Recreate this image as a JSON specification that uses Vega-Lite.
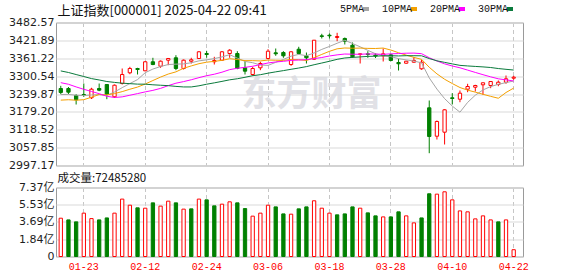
{
  "$schema": "https://vega.github.io/schema/vega-lite/v6.json",
  "background": "#ffffff",
  "padding": {"left": 8, "top": 3.5, "right": 5, "bottom": 2},
  "spacing": 1,
  "datasets": {
    "k": [
      {"d":"01-20","o":3258.5,"h":3267.7,"l":3239.2,"c":3245.0,"v":4.09,"chg":2.56,"5PMA":3238.06,"10PMA":3219.08,"20PMA":3278.36,"30PMA":3318.21},
      {"d":"01-21","o":3258.5,"h":3263.6,"l":3239.9,"c":3246.0,"v":3.91,"chg":-1.76,"5PMA":3238.39,"10PMA":3220.38,"20PMA":3272.92,"30PMA":3312.88},
      {"d":"01-22","o":3234.8,"h":3239.2,"l":3204.2,"c":3220.2,"v":3.70,"chg":-29.00,"5PMA":3235.69,"10PMA":3218.72,"20PMA":3263.93,"30PMA":3305.91},
      {"d":"01-23","o":3238.2,"h":3275.5,"l":3230.4,"c":3234.8,"v":4.63,"chg":16.54,"5PMA":3234.52,"10PMA":3220.60,"20PMA":3255.77,"30PMA":3299.17},
      {"d":"01-24","o":3227.0,"h":3260.9,"l":3222.9,"c":3256.2,"v":4.05,"chg":22.47,"5PMA":3236.68,"10PMA":3229.01,"20PMA":3248.50,"30PMA":3292.21},
      {"d":"01-27","o":3258.5,"h":3275.5,"l":3249.4,"c":3252.8,"v":3.91,"chg":-2.03,"5PMA":3237.93,"10PMA":3237.99,"20PMA":3241.02,"30PMA":3287.50},
      {"d":"02-05","o":3272.1,"h":3273.8,"l":3222.2,"c":3238.2,"v":4.12,"chg":-21.11,"5PMA":3235.30,"10PMA":3236.85,"20PMA":3232.13,"30PMA":3282.27},
      {"d":"02-06","o":3230.4,"h":3272.1,"l":3226.3,"c":3269.7,"v":4.63,"chg":41.17,"5PMA":3246.71,"10PMA":3241.20,"20PMA":3228.07,"30PMA":3279.24},
      {"d":"02-07","o":3275.5,"h":3326.4,"l":3272.1,"c":3306.1,"v":6.13,"chg":33.01,"5PMA":3261.41,"10PMA":3247.97,"20PMA":3230.13,"30PMA":3276.62},
      {"d":"02-10","o":3311.8,"h":3332.2,"l":3307.1,"c":3326.4,"v":5.48,"chg":18.50,"5PMA":3275.32,"10PMA":3256.00,"20PMA":3235.67,"30PMA":3275.03},
      {"d":"02-11","o":3326.4,"h":3328.8,"l":3306.1,"c":3323.0,"v":5.20,"chg":-4.11,"5PMA":3288.81,"10PMA":3263.37,"20PMA":3241.22,"30PMA":3273.36},
      {"d":"02-12","o":3318.6,"h":3351.2,"l":3317.3,"c":3349.2,"v":5.16,"chg":28.33,"5PMA":3312.19,"10PMA":3273.75,"20PMA":3247.06,"30PMA":3273.20},
      {"d":"02-13","o":3349.2,"h":3362.8,"l":3337.6,"c":3340.0,"v":5.73,"chg":-13.91,"5PMA":3324.55,"10PMA":3285.63,"20PMA":3252.18,"30PMA":3271.16},
      {"d":"02-14","o":3334.2,"h":3353.6,"l":3328.8,"c":3351.2,"v":5.38,"chg":14.24,"5PMA":3333.16,"10PMA":3297.29,"20PMA":3258.94,"30PMA":3269.61},
      {"d":"02-17","o":3354.6,"h":3362.1,"l":3337.6,"c":3360.4,"v":5.91,"chg":9.11,"5PMA":3339.90,"10PMA":3307.61,"20PMA":3268.31,"30PMA":3268.20},
      {"d":"02-18","o":3362.8,"h":3371.6,"l":3320.7,"c":3326.4,"v":5.73,"chg":-31.34,"5PMA":3341.18,"10PMA":3315.00,"20PMA":3276.49,"30PMA":3265.68},
      {"d":"02-19","o":3326.4,"h":3356.9,"l":3323.0,"c":3354.6,"v":5.06,"chg":27.05,"5PMA":3342.21,"10PMA":3327.20,"20PMA":3282.02,"30PMA":3263.82},
      {"d":"02-20","o":3351.2,"h":3362.8,"l":3343.4,"c":3356.0,"v":5.09,"chg":-0.76,"5PMA":3345.87,"10PMA":3335.21,"20PMA":3288.21,"30PMA":3263.79},
      {"d":"02-21","o":3360.4,"h":3385.8,"l":3358.7,"c":3383.1,"v":6.13,"chg":28.33,"5PMA":3352.35,"10PMA":3342.76,"20PMA":3295.36,"30PMA":3267.67},
      {"d":"02-24","o":3377.3,"h":3386.5,"l":3362.8,"c":3373.9,"v":6.05,"chg":-6.08,"5PMA":3355.79,"10PMA":3347.84,"20PMA":3301.92,"30PMA":3273.06},
      {"d":"02-25","o":3349.2,"h":3366.1,"l":3340.0,"c":3353.6,"v":5.41,"chg":-26.99,"5PMA":3360.10,"10PMA":3350.64,"20PMA":3307.00,"30PMA":3277.70},
      {"d":"02-26","o":3354.6,"h":3385.8,"l":3352.0,"c":3383.1,"v":5.59,"chg":34.17,"5PMA":3365.83,"10PMA":3354.02,"20PMA":3313.88,"30PMA":3282.71},
      {"d":"02-27","o":3377.3,"h":3391.9,"l":3362.8,"c":3388.5,"v":5.84,"chg":7.85,"5PMA":3373.29,"10PMA":3359.58,"20PMA":3322.61,"30PMA":3287.98},
      {"d":"02-28","o":3377.3,"h":3385.2,"l":3324.0,"c":3326.4,"v":5.73,"chg":-67.16,"5PMA":3361.65,"10PMA":3357.00,"20PMA":3327.14,"30PMA":3291.63},
      {"d":"03-03","o":3328.8,"h":3351.2,"l":3306.1,"c":3317.3,"v":5.12,"chg":-3.97,"5PMA":3350.43,"10PMA":3353.11,"20PMA":3330.36,"30PMA":3296.57},
      {"d":"03-04","o":3306.1,"h":3332.2,"l":3301.6,"c":3326.4,"v":4.31,"chg":7.28,"5PMA":3346.06,"10PMA":3353.08,"20PMA":3334.04,"30PMA":3302.02},
      {"d":"03-05","o":3328.8,"h":3349.2,"l":3320.7,"c":3343.4,"v":4.63,"chg":17.75,"5PMA":3338.41,"10PMA":3352.12,"20PMA":3339.66,"30PMA":3305.39},
      {"d":"03-06","o":3360.4,"h":3391.9,"l":3358.0,"c":3385.2,"v":5.48,"chg":39.14,"5PMA":3337.02,"10PMA":3355.16,"20PMA":3345.18,"30PMA":3310.52},
      {"d":"03-07","o":3379.7,"h":3394.3,"l":3369.5,"c":3376.3,"v":5.30,"chg":-8.55,"5PMA":3347.35,"10PMA":3354.50,"20PMA":3348.63,"30PMA":3315.07},
      {"d":"03-10","o":3380.7,"h":3385.2,"l":3362.8,"c":3369.5,"v":4.55,"chg":-6.39,"5PMA":3357.20,"10PMA":3353.81,"20PMA":3350.83,"30PMA":3319.22},
      {"d":"03-11","o":3340.0,"h":3385.2,"l":3335.6,"c":3383.1,"v":4.52,"chg":13.67,"5PMA":3368.32,"10PMA":3357.19,"20PMA":3353.92,"30PMA":3323.73},
      {"d":"03-12","o":3391.9,"h":3400.1,"l":3373.9,"c":3377.3,"v":5.09,"chg":-7.91,"5PMA":3374.31,"10PMA":3356.36,"20PMA":3355.19,"30PMA":3328.04},
      {"d":"03-13","o":3369.5,"h":3380.7,"l":3343.4,"c":3362.8,"v":5.30,"chg":-13.19,"5PMA":3369.84,"10PMA":3353.43,"20PMA":3356.51,"30PMA":3332.88},
      {"d":"03-14","o":3358.0,"h":3423.0,"l":3355.3,"c":3422.5,"v":5.95,"chg":60.83,"5PMA":3379.24,"10PMA":3363.30,"20PMA":3360.15,"30PMA":3339.19},
      {"d":"03-17","o":3437.4,"h":3444.2,"l":3428.3,"c":3435.1,"v":5.16,"chg":6.87,"5PMA":3391.29,"10PMA":3374.25,"20PMA":3363.68,"30PMA":3344.99},
      {"d":"03-18","o":3439.5,"h":3445.2,"l":3428.3,"c":3437.4,"v":4.63,"chg":3.33,"5PMA":3401.28,"10PMA":3384.80,"20PMA":3368.94,"30PMA":3350.96},
      {"d":"03-19","o":3431.7,"h":3447.6,"l":3419.1,"c":3435.1,"v":4.45,"chg":-3.33,"5PMA":3412.18,"10PMA":3393.25,"20PMA":3372.69,"30PMA":3357.52},
      {"d":"03-20","o":3428.3,"h":3431.7,"l":3407.9,"c":3419.1,"v":4.55,"chg":-17.48,"5PMA":3422.23,"10PMA":3396.03,"20PMA":3375.59,"30PMA":3362.13},
      {"d":"03-21","o":3405.5,"h":3414.7,"l":3362.8,"c":3366.1,"v":5.30,"chg":-44.12,"5PMA":3411.28,"10PMA":3395.26,"20PMA":3374.88,"30PMA":3364.17},
      {"d":"03-24","o":3373.9,"h":3377.3,"l":3343.4,"c":3376.3,"v":5.16,"chg":5.20,"5PMA":3400.00,"10PMA":3395.65,"20PMA":3374.73,"30PMA":3365.77},
      {"d":"03-25","o":3376.3,"h":3385.2,"l":3362.8,"c":3373.9,"v":4.66,"chg":-0.05,"5PMA":3388.04,"10PMA":3394.66,"20PMA":3375.93,"30PMA":3367.50},
      {"d":"03-26","o":3372.0,"h":3378.0,"l":3362.0,"c":3368.7,"v":4.34,"chg":-1.28,"5PMA":3376.50,"10PMA":3394.34,"20PMA":3375.35,"30PMA":3368.24},
      {"d":"03-27","o":3369.5,"h":3394.3,"l":3350.2,"c":3376.3,"v":4.23,"chg":5.05,"5PMA":3369.46,"10PMA":3395.84,"20PMA":3374.64,"30PMA":3369.62},
      {"d":"03-28","o":3372.9,"h":3376.3,"l":3351.2,"c":3353.6,"v":4.23,"chg":-22.44,"5PMA":3366.75,"10PMA":3389.02,"20PMA":3376.16,"30PMA":3369.77},
      {"d":"03-31","o":3346.8,"h":3359.4,"l":3319.6,"c":3342.4,"v":4.77,"chg":-15.56,"5PMA":3359.90,"10PMA":3379.95,"20PMA":3377.10,"30PMA":3369.10},
      {"d":"04-01","o":3344.4,"h":3352.5,"l":3343.0,"c":3351.2,"v":4.34,"chg":12.69,"5PMA":3355.59,"10PMA":3371.82,"20PMA":3378.31,"30PMA":3369.90},
      {"d":"04-02","o":3347.8,"h":3364.8,"l":3346.0,"c":3353.6,"v":3.59,"chg":1.69,"5PMA":3351.88,"10PMA":3364.19,"20PMA":3378.72,"30PMA":3369.85},
      {"d":"04-03","o":3325.4,"h":3356.0,"l":3322.0,"c":3347.8,"v":4.12,"chg":-8.12,"5PMA":3345.53,"10PMA":3357.49,"20PMA":3376.76,"30PMA":3369.56},
      {"d":"04-07","o":3193.0,"h":3217.8,"l":3038.9,"c":3095.6,"v":6.70,"chg":-245.43,"5PMA":3294.58,"10PMA":3330.67,"20PMA":3362.96,"30PMA":3360.14},
      {"d":"04-08","o":3096.6,"h":3149.9,"l":3085.4,"c":3146.5,"v":6.66,"chg":48.97,"5PMA":3256.54,"10PMA":3308.22,"20PMA":3351.93,"30PMA":3352.56},
      {"d":"04-09","o":3110.2,"h":3188.0,"l":3068.5,"c":3186.2,"v":6.91,"chg":41.26,"5PMA":3224.22,"10PMA":3289.90,"20PMA":3342.28,"30PMA":3347.25},
      {"d":"04-10","o":3227.0,"h":3242.6,"l":3204.2,"c":3224.6,"v":6.05,"chg":36.83,"5PMA":3198.92,"10PMA":3275.40,"20PMA":3334.87,"30PMA":3342.03},
      {"d":"04-11","o":3222.2,"h":3251.8,"l":3212.0,"c":3242.6,"v":4.87,"chg":14.59,"5PMA":3178.16,"10PMA":3261.85,"20PMA":3328.84,"30PMA":3337.04},
      {"d":"04-14","o":3256.2,"h":3274.5,"l":3246.0,"c":3265.3,"v":4.77,"chg":24.58,"5PMA":3211.41,"10PMA":3253.00,"20PMA":3321.01,"30PMA":3335.10},
      {"d":"04-15","o":3262.9,"h":3271.1,"l":3248.4,"c":3268.7,"v":4.02,"chg":4.85,"5PMA":3235.83,"10PMA":3246.19,"20PMA":3313.07,"30PMA":3333.46},
      {"d":"04-16","o":3271.1,"h":3278.5,"l":3237.2,"c":3277.9,"v":4.34,"chg":8.34,"5PMA":3253.67,"10PMA":3238.94,"20PMA":3305.38,"30PMA":3331.85},
      {"d":"04-17","o":3268.7,"h":3282.8,"l":3259.6,"c":3282.3,"v":3.91,"chg":4.34,"5PMA":3265.01,"10PMA":3231.96,"20PMA":3298.07,"30PMA":3329.80},
      {"d":"04-18","o":3272.1,"h":3285.7,"l":3266.3,"c":3279.9,"v":3.70,"chg":-3.61,"5PMA":3272.71,"10PMA":3225.44,"20PMA":3291.46,"30PMA":3326.32},
      {"d":"04-21","o":3279.9,"h":3302.7,"l":3274.5,"c":3291.5,"v":3.91,"chg":14.70,"5PMA":3278.43,"10PMA":3244.92,"20PMA":3287.79,"30PMA":3323.62},
      {"d":"04-22","o":3293.5,"h":3301.6,"l":3288.1,"c":3296.9,"v":0.7249,"chg":4.57,"5PMA":3284.10,"10PMA":3259.97,"20PMA":3284.09,"30PMA":3321.28}
    ]
  },
  "config": {
    "view": {"stroke": "#9a9a9a", "strokeWidth": 1},
    "axis": {
      "domain": false, "ticks": false, "title": null,
      "labelFont": "DejaVu Sans, Noto Sans CJK SC", "labelFontSize": 11, "labelColor": "#1e1e1e",
      "gridColor": "#d9d9d9", "gridWidth": 1, "labelOverlap": false
    },
    "axisY": {"labelOverlap": false, "labelFlush": false, "labelPadding": 2},
    "axisX": {"gridDash": [4, 3], "gridColor": "#c6c6c6", "bandPosition": 0.5},
    "title": {"anchor": "start", "frame": "group", "fontWeight": "normal", "color": "#111111"}
  },
  "vconcat": [
    {
      "width": 467, "height": 143,
      "title": {"text": "上证指数[000001] 2025-04-22 09:41", "font": "Noto Sans CJK SC", "fontSize": 13, "offset": -1.5, "dx": 1.5},
      "data": {"name": "k"},
      "resolve": {"axis": {"y": "independent"}},
      "encoding": {
        "x": {
          "field": "d", "type": "ordinal", "sort": null,
          "scale": {"type": "band", "domain": ["01-20","01-21","01-22","01-23","01-24","01-27","02-05","02-06","02-07","02-10","02-11","02-12","02-13","02-14","02-17","02-18","02-19","02-20","02-21","02-24","02-25","02-26","02-27","02-28","03-03","03-04","03-05","03-06","03-07","03-10","03-11","03-12","03-13","03-14","03-17","03-18","03-19","03-20","03-21","03-24","03-25","03-26","03-27","03-28","03-31","04-01","04-02","04-03","04-07","04-08","04-09","04-10","04-11","04-14","04-15","04-16","04-17","04-18","04-21","04-22"], "paddingInner": 0.57, "paddingOuter": 0.703, "align": 0.29},
          "axis": {"labels": false, "grid": true, "values": ["01-23","02-12","02-24","03-06","03-18","03-28","04-10","04-22"], "minExtent": 0, "maxExtent": 0}
        }
      },
      "layer": [
        {
          "data": {"values": [{"t": "东方财富"}]},
          "mark": {"type": "text", "font": "Noto Sans CJK SC", "fontSize": 35, "fontWeight": "bold", "color": "#d8d8de", "opacity": 0.75, "align": "center", "baseline": "middle", "dx": 5},
          "encoding": {
            "x": {"datum": "03-13", "type": "ordinal"},
            "y": {"datum": 3234.8, "type": "quantitative", "scale": {"domain": [2997.17, 3482.57], "zero": false, "nice": false}, "axis": null},
            "text": {"field": "t"}
          }
        },
        {
          "mark": {"type": "rule", "strokeWidth": 1},
          "encoding": {
            "y": {
              "field": "l", "type": "quantitative",
              "scale": {"domain": [2997.17, 3482.57], "zero": false, "nice": false},
              "axis": {"values": [2997.17, 3057.85, 3118.52, 3179.2, 3239.87, 3300.54, 3361.22, 3421.89, 3482.57], "format": ".2f", "labelPadding": 2, "labelFlush": false, "labelOverlap": false, "grid": true}
            },
            "y2": {"field": "h"},
            "color": {"condition": {"test": "datum.c >= datum.o", "value": "#ff0000"}, "value": "#008000"}
          }
        },
        {
          "mark": {"type": "bar", "strokeWidth": 1},
          "encoding": {
            "y": {"field": "o", "type": "quantitative", "scale": {"domain": [2997.17, 3482.57], "zero": false, "nice": false}, "axis": null},
            "y2": {"field": "c"},
            "fill": {"condition": {"test": "datum.c >= datum.o", "value": "#ffffff"}, "value": "#008000"},
            "stroke": {"condition": {"test": "datum.c >= datum.o", "value": "#ff0000"}, "value": "#008000"}
          }
        },
        {
          "transform": [{"fold": ["5PMA", "10PMA", "20PMA", "30PMA"], "as": ["ma", "val"]}],
          "mark": {"type": "line", "strokeWidth": 1},
          "encoding": {
            "y": {"field": "val", "type": "quantitative", "scale": {"domain": [2997.17, 3482.57], "zero": false, "nice": false}, "axis": null},
            "color": {
              "field": "ma", "type": "nominal",
              "scale": {"domain": ["5PMA", "10PMA", "20PMA", "30PMA"], "range": ["#a6a6a6", "#f4a000", "#ff00ff", "#0a7a3c"]},
              "legend": {
                "orient": "none", "legendX": 280, "legendY": -18.5, "direction": "horizontal", "title": null,
                "symbolType": "M-1,-0.67H1V0.67H-1Z", "symbolSize": 36, "symbolStrokeWidth": 0,
                "labelFont": "Liberation Mono", "labelFontSize": 10, "labelColor": "#111111", "labelOffset": -6,
                "columnPadding": 9, "padding": 0,
                "encode": {
                  "symbols": {"update": {
                    "x": {"signal": "length(datum.label) * 6 + 6"},
                    "fill": {"signal": "datum.value == '5PMA' ? '#a6a6a6' : datum.value == '10PMA' ? '#f4a000' : datum.value == '20PMA' ? '#ff00ff' : '#0a7a3c'"},
                    "stroke": {"value": "transparent"},
                    "opacity": {"value": 1}
                  }}
                }
              }
            }
          }
        }
      ]
    },
    {
      "width": 467, "height": 69,
      "title": {"text": "成交量:72485280", "font": "Noto Sans CJK SC", "fontSize": 11.5, "offset": -3.3, "dx": 1.5},
      "data": {"name": "k"},
      "mark": {"type": "bar", "strokeWidth": 1},
      "encoding": {
        "x": {
          "field": "d", "type": "ordinal", "sort": null,
          "scale": {"type": "band", "domain": ["01-20","01-21","01-22","01-23","01-24","01-27","02-05","02-06","02-07","02-10","02-11","02-12","02-13","02-14","02-17","02-18","02-19","02-20","02-21","02-24","02-25","02-26","02-27","02-28","03-03","03-04","03-05","03-06","03-07","03-10","03-11","03-12","03-13","03-14","03-17","03-18","03-19","03-20","03-21","03-24","03-25","03-26","03-27","03-28","03-31","04-01","04-02","04-03","04-07","04-08","04-09","04-10","04-11","04-14","04-15","04-16","04-17","04-18","04-21","04-22"], "paddingInner": 0.57, "paddingOuter": 0.703, "align": 0.29},
          "axis": {"grid": true, "values": ["01-23","02-12","02-24","03-06","03-18","03-28","04-10","04-22"], "labelColor": "#ff0000", "labelFont": "Liberation Mono", "labelFontSize": 10, "labelPadding": 4.5, "labelAngle": 0}
        },
        "y": {
          "field": "v", "type": "quantitative",
          "scale": {"domain": [0, 7.37], "nice": false},
          "axis": {"values": [0, 1.84, 3.69, 5.53, 7.37], "labelExpr": "datum.value == 0 ? '0' : format(datum.value, '.2f') + '亿'", "labelPadding": 2, "labelFlush": false, "labelOverlap": false, "grid": true}
        },
        "fill": {"condition": {"test": "datum.chg >= 0", "value": "#ffffff"}, "value": "#008000"},
        "stroke": {"condition": {"test": "datum.chg >= 0", "value": "#ff0000"}, "value": "#008000"}
      }
    }
  ]
}
